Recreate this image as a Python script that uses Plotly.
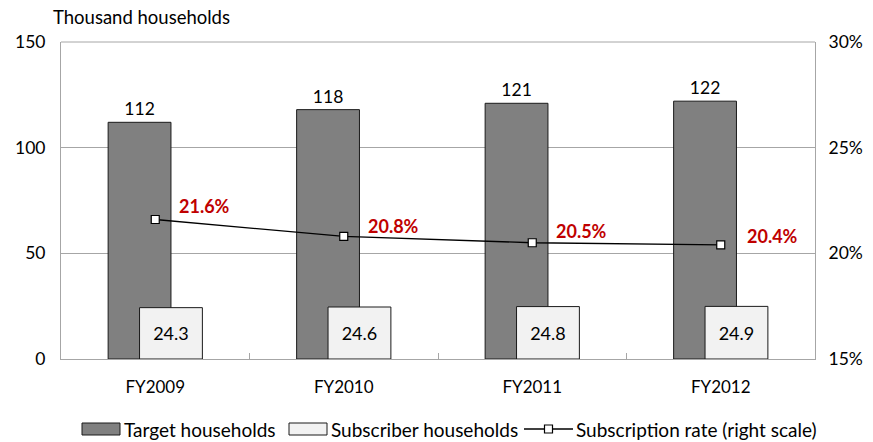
import plotly.graph_objects as go

categories = ["FY2009", "FY2010", "FY2011", "FY2012"]
target = [112, 118, 121, 122]
subscriber = [24.3, 24.6, 24.8, 24.9]
rate = [0.216, 0.208, 0.205, 0.204]
rate_labels = ["21.6%", "20.8%", "20.5%", "20.4%"]
series_names = ["Target households", "Subscriber households", "Subscription rate (right scale)"]

FONT = "Lato"
W, H = 873, 442
L, R, T, B = 61, 815, 42, 359  # plot area in pixels


def px(x):
    return (x - L) / (R - L)


def py(y):
    return (B - y) / (B - T)


fig = go.Figure()
fig.add_trace(go.Bar(
    x=categories, y=target, name=series_names[0],
    marker=dict(color="#808080", line=dict(color="#1a1a1a", width=1)),
    width=1/3, offset=-0.25,
    text=[str(v) for v in target], textposition="outside",
    textfont=dict(size=17.5, color="black", family=FONT), cliponaxis=False,
))
fig.add_trace(go.Bar(
    x=categories, y=subscriber, name=series_names[1],
    marker=dict(color="#f2f2f2", line=dict(color="#1a1a1a", width=1)),
    width=1/3, offset=-1/12,
    text=[f"{v:.1f}" for v in subscriber], textposition="inside", insidetextanchor="middle",
    textfont=dict(size=18, color="black", family=FONT),
))
fig.add_trace(go.Scatter(
    x=categories, y=rate, name=series_names[2], yaxis="y2",
    mode="lines+markers",
    line=dict(color="black", width=1.3),
    marker=dict(symbol="square", size=8, color="white", line=dict(color="black", width=1.2)),
))

label_yshift = [14, 10, 12, 9]
label_xshift = [22, 22, 22, 24]
for c, r, lab, ys, xs in zip(categories, rate, rate_labels, label_yshift, label_xshift):
    fig.add_annotation(x=c, y=r, xref="x", yref="y2", text=f"<b>{lab}</b>",
                       showarrow=False, xanchor="left", yanchor="middle",
                       xshift=xs, yshift=ys,
                       font=dict(size=18, color="#c00000", family=FONT))

fig.add_annotation(x=px(51), y=py(17), xref="paper", yref="paper", text="Thousand households",
                   showarrow=False, xanchor="left", yanchor="middle",
                   font=dict(size=18.5, color="black", family=FONT))

# legend (drawn manually to match the original's wide swatches)
leg_y = 429
fig.add_shape(type="rect", xref="paper", yref="paper", x0=px(82), x1=px(120), y0=py(435), y1=py(423),
              fillcolor="#808080", line=dict(color="#1a1a1a", width=1))
fig.add_shape(type="rect", xref="paper", yref="paper", x0=px(289), x1=px(327), y0=py(435), y1=py(423),
              fillcolor="#f2f2f2", line=dict(color="#1a1a1a", width=1))
fig.add_shape(type="line", xref="paper", yref="paper", x0=px(524), x1=px(573), y0=py(leg_y), y1=py(leg_y),
              line=dict(color="black", width=1.3))
fig.add_shape(type="rect", xref="paper", yref="paper", x0=px(544.5), x1=px(552.5), y0=py(leg_y + 4), y1=py(leg_y - 4),
              fillcolor="white", line=dict(color="black", width=1.2))
for xpos, name in zip([122, 329, 574], series_names):
    fig.add_annotation(x=px(xpos), y=py(leg_y), xref="paper", yref="paper", text=name,
                       showarrow=False, xanchor="left", yanchor="middle",
                       font=dict(size=19, color="black", family=FONT))

fig.update_layout(
    width=W, height=H,
    margin=dict(l=L, r=W - R, t=T, b=H - B, autoexpand=False),
    paper_bgcolor="white", plot_bgcolor="white",
    barmode="overlay",
    font=dict(family=FONT, size=17.5, color="black"),
    showlegend=False,
    xaxis=dict(type="category", showline=True, linecolor="#a6a6a6", linewidth=1,
               ticks="inside", tickson="boundaries", ticklen=6, tickcolor="#a6a6a6",
               automargin=False, ticklabelstandoff=13, tickfont=dict(size=17)),
    yaxis=dict(range=[0, 150], dtick=50, showgrid=True, gridcolor="#a6a6a6",
               showline=True, linecolor="#a6a6a6", zeroline=False, automargin=False,
               ticks="", tickfont=dict(size=17.5), ticklabelstandoff=11),
    yaxis2=dict(range=[0.15, 0.30], dtick=0.05, tickformat=".0%", overlaying="y", side="right",
                showgrid=False, showline=True, linecolor="#a6a6a6", zeroline=False, automargin=False,
                ticks="", tickfont=dict(size=17.5), ticklabelstandoff=9),
)
fig.add_shape(type="line", xref="paper", yref="paper", x0=0, x1=1, y0=1, y1=1,
              line=dict(color="#a6a6a6", width=1))

fig.write_html(
    "out.html",
    config={"displayModeBar": False},
    post_script="document.body.style.margin='0px';document.body.style.overflow='hidden';",
)
